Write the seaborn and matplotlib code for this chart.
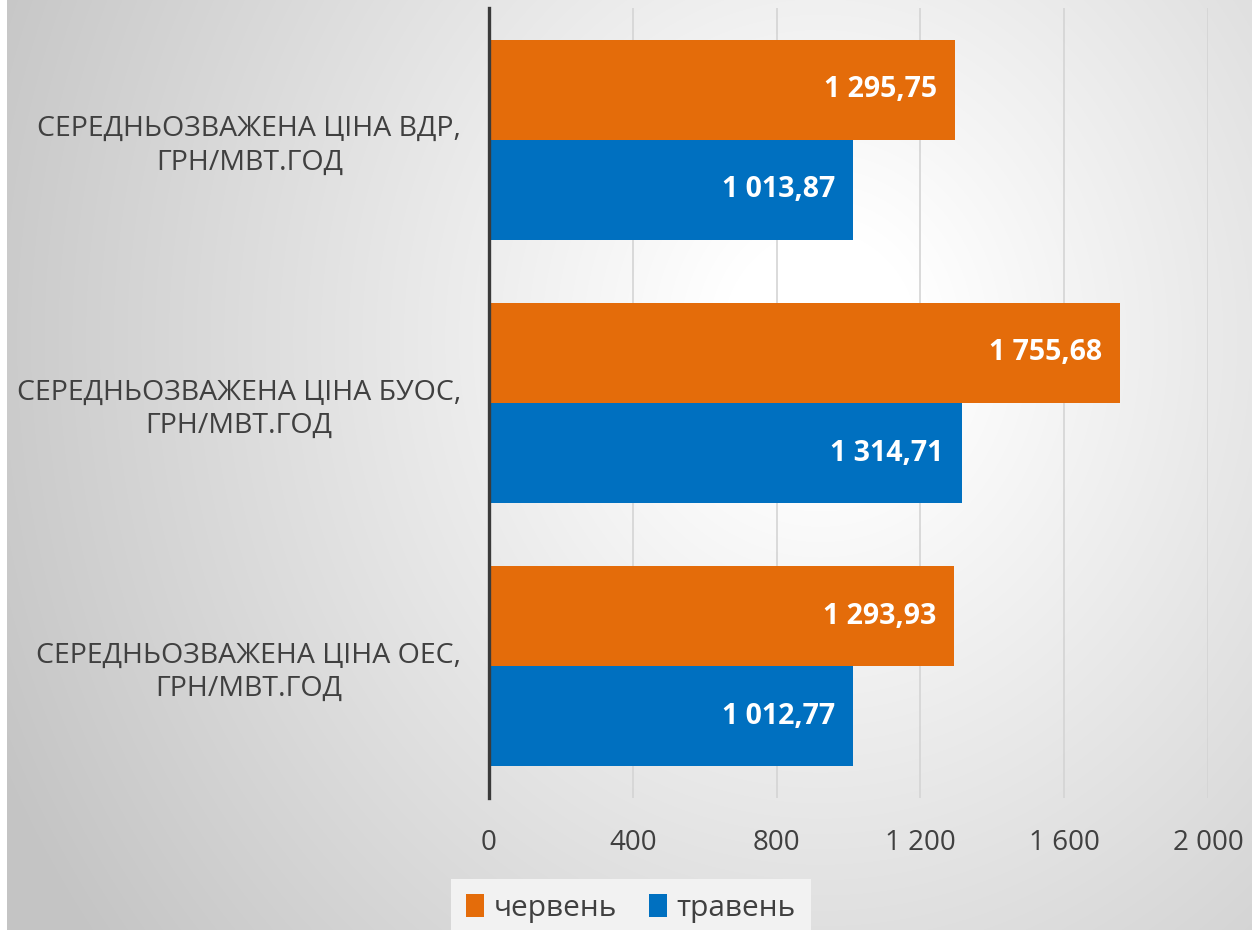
import numpy as np
import pandas as pd
import matplotlib
matplotlib.use('Agg')
import matplotlib.pyplot as plt
import seaborn as sns

# data
categories = ['СЕРЕДНЬОЗВАЖЕНА ЦІНА ВДР,\nГРН/МВТ.ГОД',
              'СЕРЕДНЬОЗВАЖЕНА ЦІНА БУОС,\nГРН/МВТ.ГОД',
              'СЕРЕДНЬОЗВАЖЕНА ЦІНА ОЕС,\nГРН/МВТ.ГОД']
months = ['червень', 'травень']
june = [1295.75, 1755.68, 1293.93]
may = [1013.87, 1314.71, 1012.77]
xticks = [0, 400, 800, 1200, 1600, 2000]

colors = {'червень': '#E46C0A', 'травень': '#0070C0'}

df = pd.DataFrame({
    'category': categories * 2,
    'month': [months[0]] * len(categories) + [months[1]] * len(categories),
    'value': june + may,
})


def fmt(v, decimals=2):
    s = f"{v:,.{decimals}f}"
    return s.replace(',', ' ').replace('.', ',')


sns.set_style('white')
plt.rcParams['font.family'] = ['Open Sans', 'DejaVu Sans']

fig = plt.figure(figsize=(12.52, 9.30), dpi=100, facecolor='white')

# radial gradient background (white centre, grey edges)
W, H = 1252, 930
xx, yy = np.meshgrid(np.arange(W), np.arange(H))
d = np.hypot((xx - 820) / 0.9, yy - 340)
g = 1 - 0.23 * np.clip((d - 110) / 900, 0, 1)
bg = np.dstack([g, g, g])
bg_ax = fig.add_axes([7 / W, 0, 1 - 7 / W, 1], zorder=-5)
bg_ax.imshow(bg[:, 7:], aspect='auto', interpolation='bilinear')
bg_ax.axis('off')

ax = fig.add_axes([489 / W, 1 - 798 / H, (1208 - 489) / W, (798 - 8) / H])
ax.set_facecolor('none')

sns.barplot(data=df, y='category', x='value', hue='month', hue_order=months,
            palette=colors, orient='h', width=0.76, saturation=1,
            edgecolor='none', ax=ax)

ax.set_xlim(0, 2000)
ax.set_ylim(len(categories) - 0.5, -0.5)
ax.set_xticks(xticks)
ax.set_xticklabels([fmt(t, 0) for t in xticks])
ax.set_xlabel('')
ax.set_ylabel('')
ax.grid(axis='x', color='#d4d4d4', linewidth=1.2)
ax.set_axisbelow(True)
ax.tick_params(axis='x', length=0, pad=22, labelsize=20, labelcolor='#404040')
ax.tick_params(axis='y', length=0, pad=20, labelsize=20.5, labelcolor='#404040')
for lbl in ax.get_yticklabels():
    lbl.set_multialignment('center')
    lbl.set_linespacing(1.25)

for side in ['top', 'right', 'bottom']:
    ax.spines[side].set_visible(False)
ax.spines['left'].set_color('#3a3a3a')
ax.spines['left'].set_linewidth(2.4)

# value labels inside bar ends
for container, vals in zip(ax.containers, [june, may]):
    for patch, v in zip(container.patches, vals):
        ax.annotate(fmt(v), (patch.get_width(), patch.get_y() + patch.get_height() / 2),
                    xytext=(-13, 0), textcoords='offset points',
                    ha='right', va='center', color='white',
                    fontsize=20.5, fontweight='bold')

leg = ax.legend(loc='center', bbox_to_anchor=(631 / W, 1 - 908 / H),
                bbox_transform=fig.transFigure, ncol=2, frameon=True,
                fancybox=False, fontsize=21.5, handlelength=0.6, handleheight=0.8,
                handletextpad=0.3, columnspacing=1.1, borderpad=0.5)
leg.get_frame().set_facecolor('#f2f2f2')
leg.get_frame().set_edgecolor('none')
leg.get_frame().set_alpha(1)
for t in leg.get_texts():
    t.set_color('#404040')

fig.savefig('out.png', dpi=100)
